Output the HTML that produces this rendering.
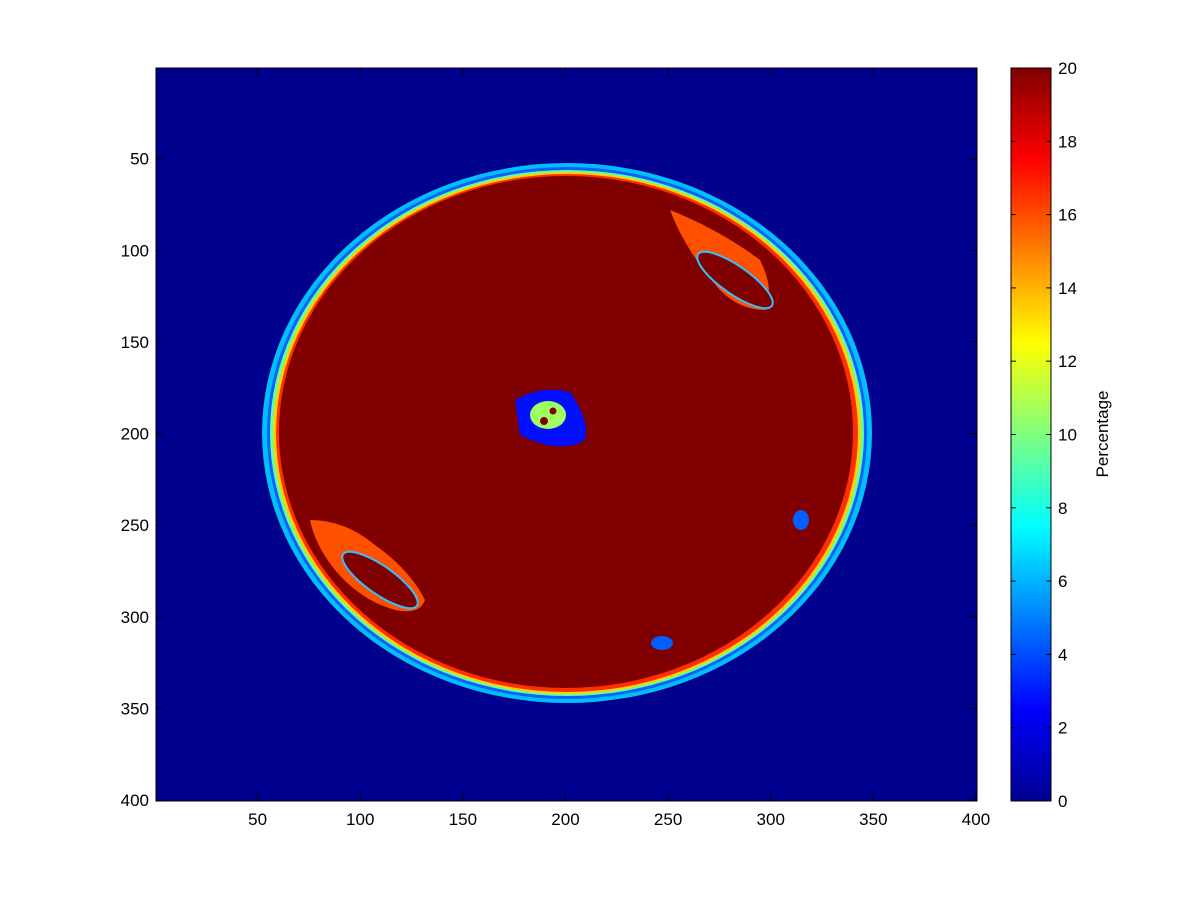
<!DOCTYPE html>
<html><head><meta charset="utf-8"><style>
body{margin:0;background:#fff;font-family:"Liberation Sans",sans-serif}
</style></head><body>
<svg width="1200" height="900" xmlns="http://www.w3.org/2000/svg" font-family="Liberation Sans, sans-serif" font-size="17">
<defs>
<linearGradient id="jet" x1="0" y1="1" x2="0" y2="0">
<stop offset="0" stop-color="#00008f"/><stop offset="0.125" stop-color="#0000ff"/>
<stop offset="0.375" stop-color="#00ffff"/><stop offset="0.625" stop-color="#ffff00"/>
<stop offset="0.875" stop-color="#ff0000"/><stop offset="1" stop-color="#800000"/>
</linearGradient>
</defs>
<g id="plot">
<rect x="156" y="68" width="821" height="733" fill="#00008f"/>
<ellipse cx="567" cy="433" rx="305" ry="270" fill="#00bfff"/>
<ellipse cx="567" cy="433" rx="300" ry="266" fill="#1060ff"/>
<ellipse cx="567" cy="433" rx="297" ry="263" fill="#60ffa0"/>
<ellipse cx="567" cy="433" rx="294" ry="261" fill="#ffd000"/>
<ellipse cx="567" cy="433" rx="291" ry="259" fill="#ff3000"/>
<ellipse cx="566" cy="432" rx="287" ry="256" fill="#800000"/>
<path d="M310 520 Q345 520 375 545 Q410 570 425 600 Q420 615 395 610 Q360 600 335 570 Q315 545 310 520Z" fill="#ff5000"/>
<ellipse cx="380" cy="580" rx="45" ry="14" transform="rotate(35 380 580)" fill="#800000" stroke="#30c0ff" stroke-width="2"/>
<path d="M670 210 Q720 230 760 260 Q775 290 765 310 Q740 310 720 290 Q685 250 670 210Z" fill="#ff5000"/>
<ellipse cx="735" cy="280" rx="45" ry="14" transform="rotate(35 735 280)" fill="#800000" stroke="#30c0ff" stroke-width="2"/>
<path d="M515 400 Q540 385 570 392 Q590 420 585 440 Q560 455 520 435Z" fill="#0010ff"/>
<ellipse cx="548" cy="415" rx="18" ry="14" fill="#a0ff60"/>
<circle cx="544" cy="421" r="4" fill="#800000"/><circle cx="553" cy="411" r="3.5" fill="#800000"/>
<ellipse cx="801" cy="520" rx="8" ry="10" fill="#0060ff"/>
<ellipse cx="662" cy="643" rx="11" ry="7" fill="#0060ff"/>
</g>
<rect x="156" y="68" width="821" height="733" fill="none" stroke="#000"/>
<rect x="1011" y="68" width="40" height="733" fill="url(#jet)" stroke="#000"/>
<g id="ticks"></g>
<text transform="translate(1108 434) rotate(-90)" text-anchor="middle">Percentage</text>
</svg>
<script>
const xTicks=[50,100,150,200,250,300,350,400];
const yTicks=[50,100,150,200,250,300,350,400];
const cTicks=[0,2,4,6,8,10,12,14,16,18,20];
const NS="http://www.w3.org/2000/svg";
const g=document.getElementById('ticks');
const sx=v=>156+(v-0.5)*(821/400);
const sy=v=>68+(v-0.5)*(733/400);
const sc=v=>801-v/20*733;
function add(tag,attrs,txt){const e=document.createElementNS(NS,tag);for(const k in attrs)e.setAttribute(k,attrs[k]);if(txt!==undefined)e.textContent=txt;g.appendChild(e);return e;}
xTicks.forEach(v=>{const x=sx(v);
add('line',{x1:x,x2:x,y1:801,y2:794,stroke:'#000'});add('line',{x1:x,x2:x,y1:68,y2:75,stroke:'#000'});
const t=add('text',{x:x,y:825,'text-anchor':'middle'},v);

});
yTicks.forEach(v=>{const y=sy(v);
add('line',{x1:156,x2:163,y1:y,y2:y,stroke:'#000'});add('line',{x1:977,x2:970,y1:y,y2:y,stroke:'#000'});
const t=add('text',{x:149,y:y+6,'text-anchor':'end'},v);

});
cTicks.forEach(v=>{const y=sc(v);
add('line',{x1:1011,x2:1016,y1:y,y2:y,stroke:'#000'});add('line',{x1:1051,x2:1046,y1:y,y2:y,stroke:'#000'});
const t=add('text',{x:1058,y:y+6},v);

});
</script>
</body></html>
